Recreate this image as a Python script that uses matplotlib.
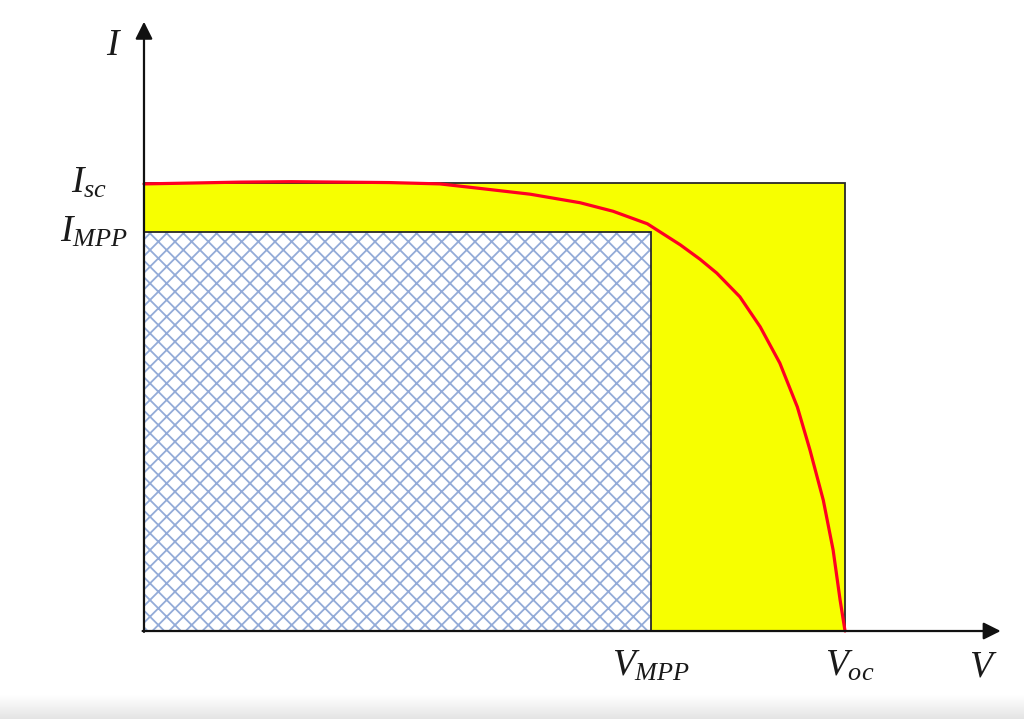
import numpy as np
import matplotlib
matplotlib.use('Agg')
import matplotlib.pyplot as plt
from matplotlib.patches import Rectangle

plt.rcParams['mathtext.fontset'] = 'custom'
plt.rcParams['mathtext.it'] = 'Liberation Serif:italic'
plt.rcParams['mathtext.rm'] = 'Liberation Serif'
plt.rcParams['hatch.linewidth'] = 1.3

# normalised I-V curve (V/Voc, I/Isc)
v_curve = [0.0, 0.070, 0.137, 0.210, 0.280, 0.350, 0.422, 0.479, 0.551, 0.622, 0.669,
           0.718, 0.765, 0.793, 0.817, 0.850, 0.879, 0.907, 0.932,
           0.950, 0.969, 0.983, 0.993, 1.0]
i_curve = [0.998, 1.000, 1.002, 1.003, 1.002, 1.001, 0.998, 0.988, 0.975, 0.956, 0.937,
           0.909, 0.862, 0.830, 0.799, 0.746, 0.679, 0.598, 0.500,
           0.404, 0.292, 0.181, 0.069, 0.0]

v_oc = 1.0
i_sc = 1.0
v_mpp = 0.723
i_mpp = 0.891

v_max = 1.222   # arrow tip of V axis
i_max = 1.36    # arrow tip of I axis

fig = plt.figure(figsize=(10.24, 7.19), dpi=100)
ax = fig.add_axes([0, 0, 1, 1])
ax.set_xlim(-0.2054, 1.2553)
ax.set_ylim(-0.1964, 1.4085)
ax.axis('off')

# light grey band at the bottom of the screenshot
grad = np.linspace(0, 1, 50).reshape(-1, 1)
ax.imshow(grad, extent=(-0.2054, 1.2553, -0.1964, -0.145), aspect='auto',
          cmap=matplotlib.colors.LinearSegmentedColormap.from_list('g', ['#ffffff', '#e4e4e4']),
          origin='upper', zorder=0)

ax.add_patch(Rectangle((0, 0), v_oc, i_sc, facecolor='#f7ff00', edgecolor='#2a2a2a', lw=1.3, zorder=1))
# hatched MPP rectangle: hatch in light blue, outline separately
ax.add_patch(Rectangle((0, 0), v_mpp, i_mpp, facecolor='white', edgecolor='#93abd8',
                       hatch='xx', lw=0, zorder=2))
ax.add_patch(Rectangle((0, 0), v_mpp, i_mpp, fill=False, edgecolor='#2a2a2a', lw=1.3, zorder=3))

ax.plot(v_curve, i_curve, color='#ff0022', lw=2.3, zorder=4,
        solid_capstyle='round', solid_joinstyle='round')

# axes with arrows
arrow = dict(arrowstyle='-|>', color='#111111', lw=1.6, mutation_scale=26, shrinkA=0, shrinkB=0)
ax.annotate('', xy=(v_max, 0), xytext=(-0.002, 0), arrowprops=arrow, zorder=5)
ax.annotate('', xy=(0, i_max), xytext=(0, -0.002), arrowprops=arrow, zorder=5)

fs = 27
ax.text(-0.043, 1.308, '$I$', fontsize=fs, ha='center', va='center', color='#1a1a1a')
ax.text(1.197, -0.038, '$V$', fontsize=fs, ha='center', va='top', color='#1a1a1a')
ax.text(-0.053, i_sc, '$I_{sc}$', fontsize=fs, ha='right', va='center', color='#1a1a1a')
ax.text(-0.023, i_mpp, '$I_{MPP}$', fontsize=fs, ha='right', va='center', color='#1a1a1a')
ax.text(v_mpp, -0.038, '$V_{MPP}$', fontsize=fs, ha='center', va='top', color='#1a1a1a')
ax.text(v_oc + 0.007, -0.038, '$V_{oc}$', fontsize=fs, ha='center', va='top', color='#1a1a1a')

fig.savefig('out.png', dpi=100)
